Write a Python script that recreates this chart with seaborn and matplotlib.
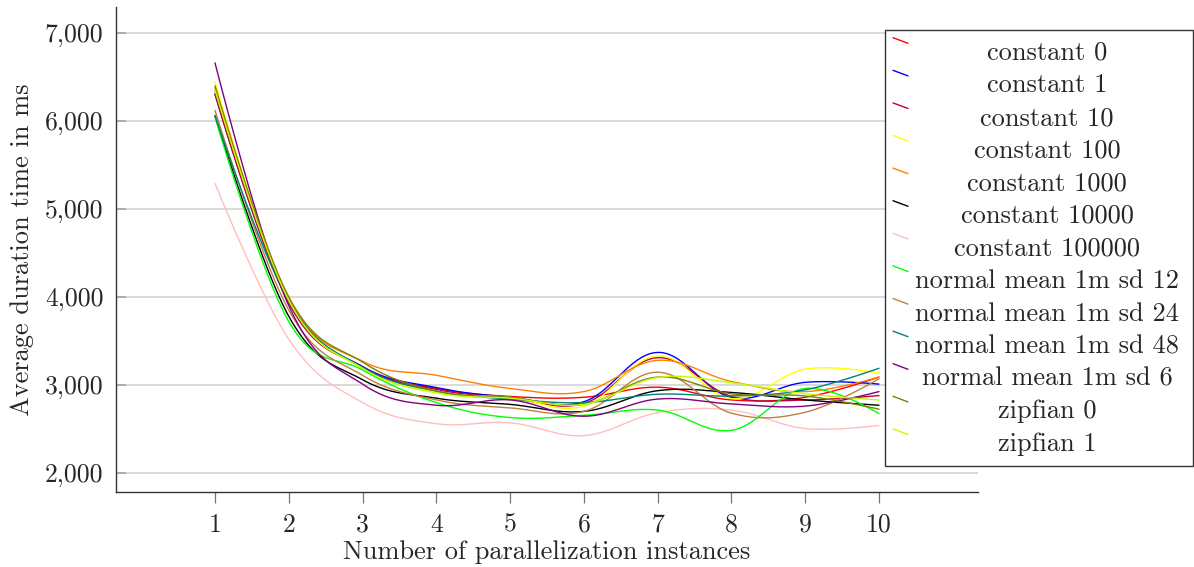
import numpy as np
import pandas as pd
import matplotlib
matplotlib.use("Agg")
import matplotlib.pyplot as plt
import seaborn as sns
from matplotlib.lines import Line2D
from matplotlib.patches import Rectangle

# ---------------- data ----------------
instances = [1, 2, 3, 4, 5, 6, 7, 8, 9, 10]
series_names = [
    "constant 0", "constant 1", "constant 10", "constant 100", "constant 1000",
    "constant 10000", "constant 100000", "normal mean 1m sd 12",
    "normal mean 1m sd 24", "normal mean 1m sd 48", "normal mean 1m sd 6",
    "zipfian 0", "zipfian 1",
]
constant_0 = [6350, 3950, 3200, 2960, 2870, 2860, 2975, 2830, 2860, 3090]
constant_1 = [6310, 3940, 3210, 2970, 2860, 2810, 3370, 2860, 3030, 3010]
constant_10 = [6300, 3930, 3200, 2950, 2850, 2790, 3310, 2870, 2830, 2880]
constant_100 = [6440, 3970, 3190, 2920, 2860, 2760, 3330, 2845, 3180, 3135]
constant_1000 = [6380, 3980, 3270, 3110, 2960, 2925, 3280, 3040, 2925, 3090]
constant_10000 = [6060, 3780, 3060, 2850, 2780, 2700, 2935, 2915, 2830, 2770]
constant_100000 = [5290, 3520, 2800, 2560, 2570, 2425, 2685, 2715, 2505, 2540]
normal_sd_12 = [6040, 3720, 3170, 2800, 2630, 2655, 2715, 2485, 2960, 2675]
normal_sd_24 = [6120, 3850, 3110, 2830, 2740, 2700, 3145, 2680, 2690, 3070]
normal_sd_48 = [6060, 3950, 3200, 2930, 2840, 2800, 2895, 2875, 2945, 3190]
normal_sd_6 = [6660, 3900, 3010, 2770, 2830, 2645, 2840, 2785, 2760, 2925]
zipfian_0 = [6400, 4000, 3260, 2930, 2860, 2780, 3090, 2900, 2875, 2725]
zipfian_1 = [6350, 3960, 3190, 2910, 2850, 2780, 3085, 3025, 2900, 2830]
y_ticks = [2000, 3000, 4000, 5000, 6000, 7000]
y_tick_labels = ["2,000", "3,000", "4,000", "5,000", "6,000", "7,000"]

series_values = [constant_0, constant_1, constant_10, constant_100, constant_1000,
                 constant_10000, constant_100000, normal_sd_12, normal_sd_24,
                 normal_sd_48, normal_sd_6, zipfian_0, zipfian_1]
colors = ["#ff0000", "#0000ff", "#bf0040", "#ffff00", "#ff8000", "#000000",
          "#ffbfbf", "#00ff00", "#bf8040", "#008080", "#800080", "#808000",
          "#bfff00"]


def smooth(xs, ys, tension=0.55, n=40):
    """TikZ-like 'smooth' path through the given points (cubic Bezier)."""
    P = np.column_stack([np.asarray(xs, float), np.asarray(ys, float)])
    f = tension / 3.0
    m = len(P)
    out = []
    t = np.linspace(0, 1, n)[:, None]
    for i in range(m - 1):
        p0, p3 = P[i], P[i + 1]
        c1 = p0 + f * (P[i + 1] - P[i - 1]) if i > 0 else p0
        c2 = p3 - f * (P[i + 2] - P[i]) if i + 2 < m else p3
        seg = ((1 - t) ** 3) * p0 + 3 * ((1 - t) ** 2) * t * c1 + 3 * (1 - t) * t ** 2 * c2 + t ** 3 * p3
        out.append(seg if i == 0 else seg[1:])
    out = np.vstack(out)
    return out[:, 0], out[:, 1]


# ---------------- style ----------------
sns.set_theme(style="white")
plt.rcParams["font.family"] = ["cmr10", "DejaVu Serif"]
plt.rcParams["axes.formatter.use_mathtext"] = True
plt.rcParams["axes.unicode_minus"] = False

FS = 19
W, H = 1194, 567
fig = plt.figure(figsize=(W / 100, H / 100), dpi=100)
ax = fig.add_axes([116 / W, 1 - 492 / H, (978 - 116) / W, (492 - 7) / H])

for name, vals, col in zip(series_names, series_values, colors):
    sx, sy = smooth(instances, vals)
    df = pd.DataFrame({"x": sx, "y": sy})
    sns.lineplot(data=df, x="x", y="y", ax=ax, color=col, lw=1.0,
                 sort=False, estimator=None, legend=False, zorder=3)

ax.set_xlim(-0.342, 11.342)
ax.set_ylim(1784, 7295)
ax.set_xticks(instances)
ax.set_xticklabels([str(i) for i in instances], fontsize=18.5)
ax.set_yticks(y_ticks)
ax.set_yticklabels(y_tick_labels, fontsize=18.5)
ax.yaxis.grid(True, color="#d9d9d9", lw=1.4, zorder=0)
ax.xaxis.grid(False)
ax.set_axisbelow(True)
for s in ["top", "right"]:
    ax.spines[s].set_visible(False)
for s in ["left", "bottom"]:
    ax.spines[s].set_color("#333333")
    ax.spines[s].set_linewidth(1.0)
ax.tick_params(axis="x", direction="out", length=8, width=0.9, color="#777777",
               pad=7, bottom=True)
ax.tick_params(axis="y", direction="in", length=7, width=1.4, color="#aaaaaa",
               pad=9, left=True)
ax.set_xlabel("Number of parallelization instances", fontsize=FS, labelpad=3)
ax.set_ylabel("Average duration time in ms", fontsize=FS, labelpad=8)

# ---------------- legend (pgfplots-like box) ----------------
fig_tr = fig.transFigure
def fx(px):
    return px / W
def fy(py):
    return 1 - py / H

fig.patches.append(Rectangle((fx(885), fy(466)), fx(1193) - fx(885), fy(30) - fy(466),
                             transform=fig_tr, facecolor="white", edgecolor="#333333",
                             lw=1.0, zorder=10))
step = 32.6
for i, (name, col) in enumerate(zip(series_names, colors)):
    y0 = 37.7 + step * i
    fig.lines.append(Line2D([fx(893), fx(908)], [fy(y0), fy(y0 + 5.6)],
                            transform=fig_tr, color=col, lw=1.0, zorder=11))
    fig.text(fx(1047), fy(53.0 + step * i), name, ha="center", va="center",
             fontsize=FS, zorder=12)

fig.savefig("out.png", dpi=100)
